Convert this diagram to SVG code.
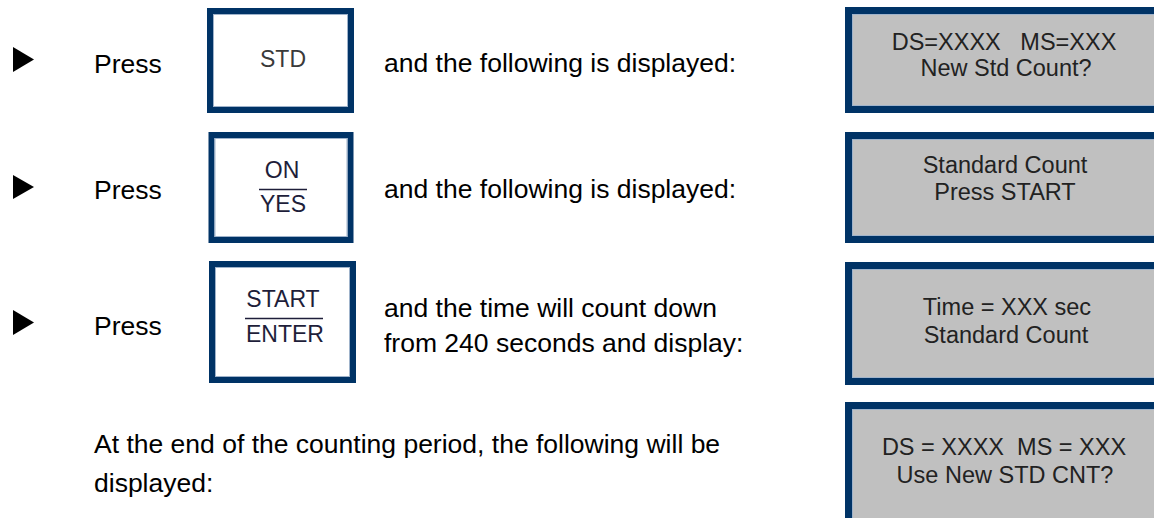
<svg xmlns="http://www.w3.org/2000/svg" width="1154" height="518" viewBox="0 0 1154 518">
<style>
.body{font-family:"Liberation Sans",Arial,sans-serif;font-size:26.5px;fill:#000}
.key{font-family:"Liberation Sans",Arial,sans-serif;font-size:23px;fill:#1e1e3a;text-anchor:middle}
.lcd{font-family:"Liberation Sans",Arial,sans-serif;font-size:23.5px;fill:#222;text-anchor:middle;white-space:pre}
.kbox{fill:#fff;stroke:#003366;stroke-width:6}
.dbox{fill:#c0c0c0;stroke:#003366;stroke-width:7}
.inner{fill:none;stroke:#9fb3cb;stroke-width:1}
.bar{stroke:#1e1e3a;stroke-width:1.6}
.tri{fill:#000}
</style>
<rect width="1154" height="518" fill="#fff"/>
<g id="step1">
  <polygon class="tri" points="13,47 34,59.5 13,72"/>
  <text class="body" x="94" y="73">Press</text>
  <text class="body" x="384" y="72">and the following is displayed:</text>
</g>
<g id="key-std">
  <rect class="kbox" x="210" y="11" width="141" height="99"/>
  <rect class="inner" x="213.5" y="14.5" width="134" height="92"/>
  <text class="key" x="283" y="67" style="fill:#3a3a3a">STD</text>
</g>
<g id="display-1">
  <rect class="dbox" x="848.5" y="10.5" width="320" height="99"/>
  <rect class="inner" x="852.5" y="14.5" width="320" height="91"/>
  <text class="lcd" x="1004" y="50">DS=XXXX   MS=XXX</text>
  <text class="lcd" x="1006" y="76">New Std Count?</text>
</g>
<g id="step2">
  <polygon class="tri" points="13,175 34,187 13,199"/>
  <text class="body" x="94" y="199">Press</text>
  <text class="body" x="384" y="198">and the following is displayed:</text>
</g>
<g id="key-onyes">
  <rect class="kbox" x="211.5" y="135" width="139" height="105"/>
  <rect class="inner" x="215" y="138.5" width="132" height="98"/>
  <text class="key" x="282" y="178">ON</text>
  <line class="bar" x1="259" y1="189.5" x2="307" y2="189.5"/>
  <text class="key" x="283" y="211.5">YES</text>
</g>
<g id="display-2">
  <rect class="dbox" x="848.5" y="135.5" width="320" height="104"/>
  <rect class="inner" x="852.5" y="139.5" width="320" height="96"/>
  <text class="lcd" x="1005" y="173">Standard Count</text>
  <text class="lcd" x="1005" y="200">Press START</text>
</g>
<g id="step3">
  <polygon class="tri" points="13,310 34,322.5 13,335"/>
  <text class="body" x="94" y="335">Press</text>
  <text class="body" x="384" y="317">and the time will count down</text>
  <text class="body" x="384" y="352">from 240 seconds and display:</text>
</g>
<g id="key-startenter">
  <rect class="kbox" x="212" y="264" width="141" height="116"/>
  <rect class="inner" x="215.5" y="267.5" width="134" height="109"/>
  <text class="key" x="283" y="307">START</text>
  <line class="bar" x1="245" y1="318.5" x2="323" y2="318.5"/>
  <text class="key" x="285" y="341.5">ENTER</text>
</g>
<g id="display-3">
  <rect class="dbox" x="848.5" y="265.5" width="320" height="116"/>
  <rect class="inner" x="852.5" y="269.5" width="320" height="108"/>
  <text class="lcd" x="1007" y="315">Time = XXX sec</text>
  <text class="lcd" x="1006" y="343">Standard Count</text>
</g>
<g id="step4">
  <text class="body" x="94" y="453">At the end of the counting period, the following will be</text>
  <text class="body" x="94" y="492">displayed:</text>
</g>
<g id="display-4">
  <rect class="dbox" x="848.5" y="405.5" width="320" height="130"/>
  <rect class="inner" x="852.5" y="409.5" width="320" height="130"/>
  <text class="lcd" x="1004" y="455">DS = XXXX  MS = XXX</text>
  <text class="lcd" x="1005" y="483">Use New STD CNT?</text>
</g>
<g id="connectors"/>
</svg>
